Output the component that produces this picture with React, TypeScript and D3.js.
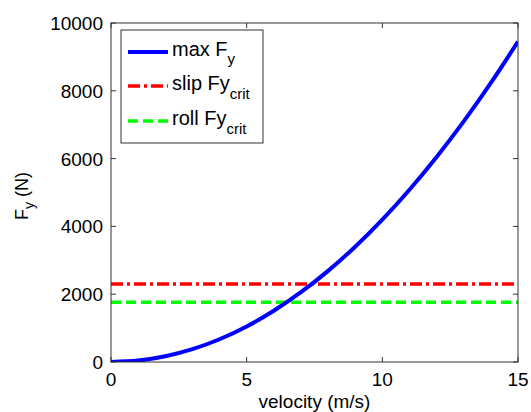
import React from "react";
import * as d3 from "d3";

const velocity = [0, 1, 2, 3, 4, 5, 6, 7, 8, 9, 10, 11, 12, 13, 14, 15];
const maxFy = [0, 42, 168, 378, 672, 1050, 1512, 2058, 2688, 3402, 4200, 5082, 6048, 7098, 8232, 9450];
const slipFyCrit = 2300;
const rollFyCrit = 1760;
const xTicks = [0, 5, 10, 15];
const yTicks = [0, 2000, 4000, 6000, 8000, 10000];

const W = 531, H = 412;
const L = 111, R = 518, T = 23, B = 362;

export default function App() {
  const x = d3.scaleLinear().domain([0, 15]).range([L, R]);
  const y = d3.scaleLinear().domain([0, 10000]).range([B, T]);
  const line = d3
    .line<number>()
    .x((_, i) => x(velocity[i]))
    .y((d) => y(d))
    .curve(d3.curveNatural);
  const font = "Liberation Sans, Arial, sans-serif";
  const tl = 5;
  return (
    <svg width={W} height={H} style={{ position: "absolute", left: 0, top: 0, background: "#fff" }} fontFamily={font}>
      <rect x={0} y={0} width={W} height={H} fill="#fff" />
      <defs>
        <clipPath id="plotclip">
          <rect x={L} y={T} width={R - L} height={B - T} />
        </clipPath>
      </defs>
      <g clipPath="url(#plotclip)">
        <line x1={x(0)} x2={x(15)} y1={y(rollFyCrit)} y2={y(rollFyCrit)} stroke="#00ff00" strokeWidth={3.5} strokeDasharray="10,5" />
        <line x1={x(0)} x2={x(15)} y1={y(slipFyCrit)} y2={y(slipFyCrit)} stroke="#ff0000" strokeWidth={3.5} strokeDasharray="12,4,3,4" />
        <path d={line(maxFy) || ""} fill="none" stroke="#0000ff" strokeWidth={4} />
      </g>
      <rect x={L} y={T} width={R - L} height={B - T} fill="none" stroke="#333" strokeWidth={1} />
      {xTicks.map((t) => (
        <g key={"x" + t}>
          <line x1={x(t)} x2={x(t)} y1={B} y2={B - tl} stroke="#333" />
          <line x1={x(t)} x2={x(t)} y1={T} y2={T + tl} stroke="#333" />
          <text x={x(t)} y={B + 24} fontSize={19} textAnchor="middle" fill="#000">{t}</text>
        </g>
      ))}
      {yTicks.map((t) => (
        <g key={"y" + t}>
          <line x1={L} x2={L + tl} y1={y(t)} y2={y(t)} stroke="#333" />
          <line x1={R} x2={R - tl} y1={y(t)} y2={y(t)} stroke="#333" />
          <text x={L - 8} y={y(t) + 7} fontSize={19} textAnchor="end" fill="#000">{t}</text>
        </g>
      ))}
      <text x={x(7.5)} y={408} fontSize={19} textAnchor="middle" fill="#000">velocity (m/s)</text>
      <g transform={`translate(28, 196) rotate(-90)`}>
        <text x={0} y={0} fontSize={18} textAnchor="middle" fill="#000">
          F<tspan dy={6} fontSize={14}>y</tspan><tspan dy={-6}> (N)</tspan>
        </text>
      </g>
      <g>
        <rect x={121} y={30} width={142} height={113} fill="#fff" stroke="#333" strokeWidth={1} />
        <line x1={128} x2={168} y1={52} y2={52} stroke="#0000ff" strokeWidth={4} />
        <text x={172} y={56} fontSize={20} fill="#000">max F<tspan dy={8} fontSize={15}>y</tspan></text>
        <line x1={128} x2={168} y1={86} y2={86} stroke="#ff0000" strokeWidth={3.5} strokeDasharray="12,4,3,4" />
        <text x={172} y={90} fontSize={20} fill="#000">slip Fy<tspan dy={9} fontSize={15}>crit</tspan></text>
        <line x1={128} x2={168} y1={121} y2={121} stroke="#00ff00" strokeWidth={3.5} strokeDasharray="10,5" />
        <text x={172} y={125} fontSize={20} fill="#000">roll Fy<tspan dy={9} fontSize={15}>crit</tspan></text>
      </g>
    </svg>
  );
}
